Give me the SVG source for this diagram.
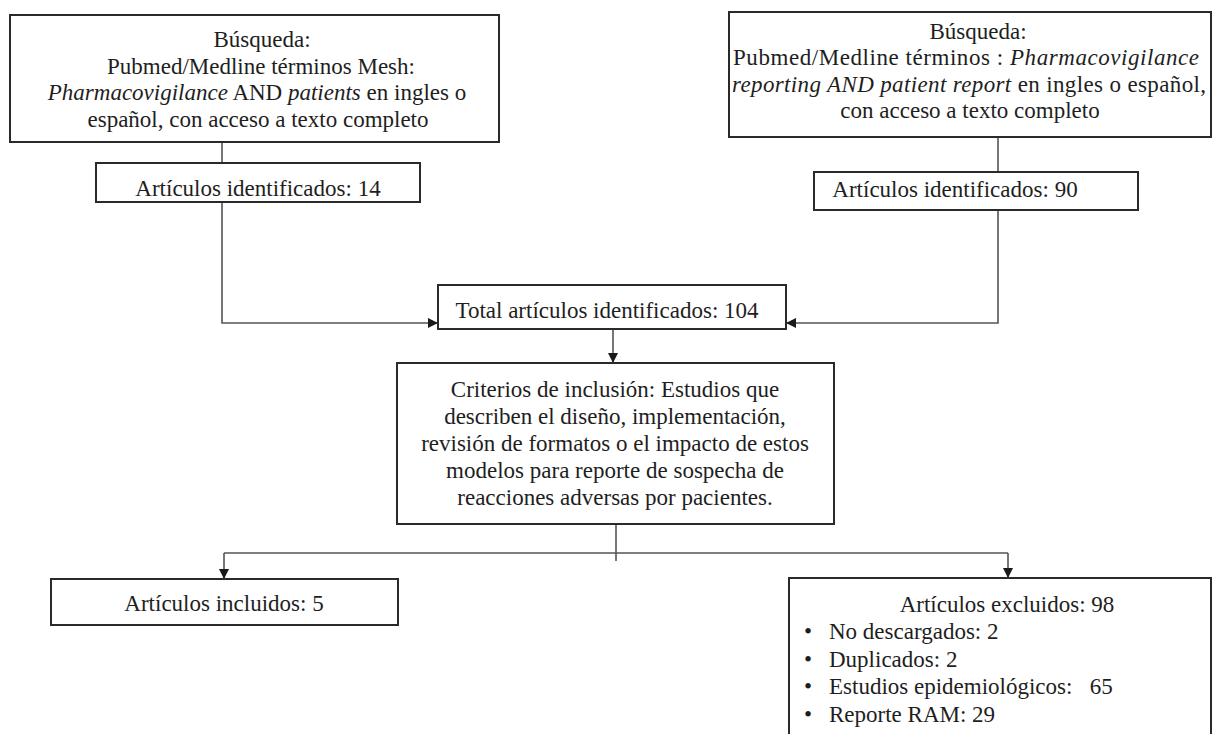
<svg xmlns="http://www.w3.org/2000/svg" width="1212" height="734" viewBox="0 0 1212 734">
<style>
.box{fill:#fff;stroke:#2a2a2a;stroke-width:2}
.t{font-family:"Liberation Serif","Times New Roman",serif;font-size:23px;fill:#1e1e1e}
.c{text-anchor:middle}
.i{font-style:italic}
.ln{fill:none;stroke:#555;stroke-width:1.6}
</style>
<defs>
<marker id="ah" markerWidth="10" markerHeight="10" refX="10" refY="5" orient="auto" markerUnits="userSpaceOnUse">
<path d="M0,0 L10,5 L0,10 Z" fill="#1a1a1a"/>
</marker>
</defs>
<rect width="1212" height="734" fill="#fff"/>
<g id="connectors">
<line class="ln" x1="222" y1="142" x2="222" y2="163"/>
<path class="ln" d="M222,202 V323 H438" marker-end="url(#ah)"/>
<line class="ln" x1="998" y1="137" x2="998" y2="172"/>
<path class="ln" d="M998,210 V323 H786" marker-end="url(#ah)"/>
<line class="ln" x1="613" y1="329" x2="613" y2="363" marker-end="url(#ah)"/>
<line class="ln" x1="616" y1="524" x2="616" y2="561"/>
<line class="ln" x1="224" y1="553" x2="1008" y2="553"/>
<line class="ln" x1="224" y1="553" x2="224" y2="579" marker-end="url(#ah)"/>
<line class="ln" x1="1008" y1="553" x2="1008" y2="578" marker-end="url(#ah)"/>
</g>
<g id="search-left">
<rect class="box" x="10" y="15" width="489" height="127"/>
<text class="t c" x="262" y="47">Búsqueda:</text>
<text class="t c" x="261" y="74">Pubmed/Medline términos Mesh:</text>
<text class="t c" x="257" y="100"><tspan class="i">Pharmacovigilance</tspan> AND <tspan class="i">patients</tspan> en ingles o</text>
<text class="t c" x="258" y="127">español, con acceso a texto completo</text>
</g>
<g id="search-right">
<rect class="box" x="729" y="12" width="482" height="125"/>
<text class="t c" x="978" y="39">Búsqueda:</text>
<text class="t c" x="966" y="65" textLength="466" lengthAdjust="spacing">Pubmed/Medline términos : <tspan class="i">Pharmacovigilance</tspan></text>
<text class="t c" x="969" y="92" textLength="474" lengthAdjust="spacing"><tspan class="i">reporting AND patient report</tspan> en ingles o español,</text>
<text class="t c" x="970" y="118">con acceso a texto completo</text>
</g>
<g id="found-left">
<rect class="box" x="96" y="163" width="324" height="39"/>
<text class="t c" x="258" y="196">Artículos identificados: 14</text>
</g>
<g id="found-right">
<rect class="box" x="814" y="172" width="324" height="38"/>
<text class="t c" x="955" y="197">Artículos identificados: 90</text>
</g>
<g id="total">
<rect class="box" x="438" y="285" width="348" height="44"/>
<text class="t c" x="607" y="318">Total artículos identificados: 104</text>
</g>
<g id="criteria">
<rect class="box" x="397" y="363" width="437" height="161"/>
<text class="t c" x="615" y="397">Criterios de inclusión: Estudios que</text>
<text class="t c" x="615" y="424">describen el diseño, implementación,</text>
<text class="t c" x="615" y="451">revisión de formatos o el impacto de estos</text>
<text class="t c" x="615" y="478">modelos para reporte de sospecha de</text>
<text class="t c" x="615" y="505">reacciones adversas por pacientes.</text>
</g>
<g id="included">
<rect class="box" x="51" y="579" width="347" height="46"/>
<text class="t c" x="224" y="611">Artículos incluidos: 5</text>
</g>
<g id="excluded">
<rect class="box" x="789" y="578" width="422" height="170"/>
<text class="t c" x="1007" y="612">Artículos excluidos: 98</text>
<text class="t" x="804" y="639">•</text>
<text class="t" x="829" y="639">No descargados: 2</text>
<text class="t" x="804" y="667">•</text>
<text class="t" x="829" y="667">Duplicados: 2</text>
<text class="t" x="804" y="694">•</text>
<text class="t" x="829" y="694" xml:space="preserve">Estudios epidemiológicos:   65</text>
<text class="t" x="804" y="722">•</text>
<text class="t" x="829" y="722">Reporte RAM: 29</text>
</g>
</svg>
